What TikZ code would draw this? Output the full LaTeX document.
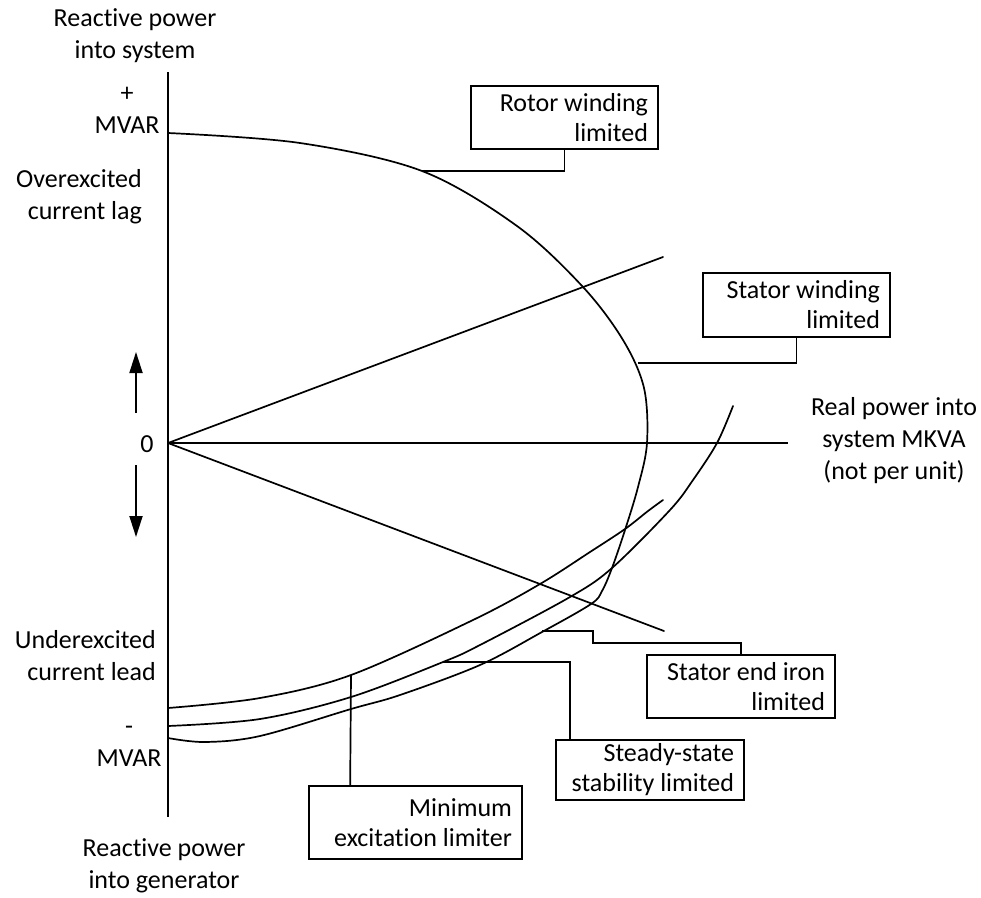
\documentclass[tikz,border=0pt]{standalone}
\usepackage{fontspec}
\setmainfont{Carlito}[Ligatures=NoCommon]
\usetikzlibrary{arrows.meta}
\tikzset{
  curve/.style={line width=1.7pt, line join=round, line cap=round},
  axisline/.style={line width=1.7pt},
  leader/.style={line width=1.7pt, line join=miter},
  lbl/.style={inner sep=0pt, align=center, font=\fontsize{26}{32}\selectfont},
  lbox/.style={draw, line width=1.7pt, inner xsep=10pt, inner ysep=0pt, align=flush right,
    font=\fontsize{26}{30}\selectfont},
  dirarrow/.style={line width=1.8pt, -{Triangle[length=21pt,width=13pt]}}
}
\begin{document}
\begin{tikzpicture}[x=1pt, y=-1pt]
\useasboundingbox (0,0) rectangle (981,897);

% axes
\coordinate (O) at (168,443);
\coordinate (ytop) at (168,72);
\coordinate (ybot) at (168,817);
\coordinate (xend) at (788,443);
\draw[axisline] (ytop) -- (ybot);
\draw[axisline] (O) -- (xend);

% power factor lines
\coordinate (lagend) at (663,257);
\coordinate (leadend) at (664,631);
\draw[curve] (O) -- (lagend);
\draw[curve] (O) -- (leadend);

% rotor winding limit running into the stator end iron limit
\draw[curve] plot[smooth, tension=0.55] coordinates {
  (168,133) (300,143) (422,171) (517,226) (583,287)
  (623,340) (644,388) (647,443) (638,487) (625,530) (612,568)
  (602,591) (591,604) (542,632) (480,665) (400,695) (351,709) (260,736)
  (205,742) (168,738)};

% steady-state stability limit
\draw[curve] plot[smooth, tension=0.55] coordinates {
  (168,726) (260,719) (351,697) (443,662) (480,645) (570,597) (612,568)
  (670,510) (693,480) (717,443) (733,406)};

% minimum excitation limiter
\draw[curve] plot[smooth, tension=0.55] coordinates {
  (168,708) (260,698) (351,675) (473,620) (540,584) (590,552) (625,529)
  (648,511) (663,500)};

% points where the leaders meet the curves
\coordinate (rotP) at (422,171);
\coordinate (swP) at (638,363);
\coordinate (seiP) at (542,631);
\coordinate (ssP) at (443,662);
\coordinate (melP) at (351,675);

% callout boxes
\node[lbox, text width=167pt, minimum height=63pt] (rot) at (564.5,117.5) {Rotor winding\\limited};
\node[lbox, text width=167pt, minimum height=64pt] (sw) at (796.5,305) {Stator winding\\limited};
\node[lbox, text width=168pt, minimum height=63pt] (sei) at (741,686.5) {Stator end iron\\limited};
\node[lbox, text width=168pt, minimum height=60pt] (ss) at (650,770) {Steady-state\\stability limited};
\node[lbox, text width=193pt, minimum height=73pt] (mel) at (415.5,822.5) {Minimum\\excitation limiter};

% leaders
\draw[leader] (rot.south) |- (rotP);
\draw[leader] (sw.south) |- (swP);
\draw[leader] (seiP) -- ++(51,0) -- ++(0,12) -| (sei.north);
\draw[leader] (ssP) -| ([xshift=15pt]ss.north west);
\draw[leader] (melP) -- ([xshift=42pt]mel.north west);

% direction arrows beside the zero mark
\coordinate (upA) at (136,413);
\coordinate (upB) at (136,352);
\coordinate (dnA) at (136,465);
\coordinate (dnB) at (136,537);
\draw[dirarrow] (upA) -- (upB);
\draw[dirarrow] (dnA) -- (dnB);

% axis labels
\node[lbl] (rpsys) at (135,36) {Reactive power\\into system};
\node[lbl] (pmvar) at (127,110) {+\\MVAR};
\node[lbl, anchor=east, align=right] (over) at (142,197) {Overexcited\\current lag};
\node[lbl] (zero) at (147,444) {0};
\node[lbl, anchor=east, align=right] (under) at (156,656) {Underexcited\\current lead};
\node[lbl] (mmvar) at (129,746) {-\\MVAR};
\node[lbl] (rpgen) at (164,866) {Reactive power\\into generator};
\node[lbl] (real) at (894,441) {Real power into\\system MKVA\\(not per unit)};
\end{tikzpicture}
\end{document}
